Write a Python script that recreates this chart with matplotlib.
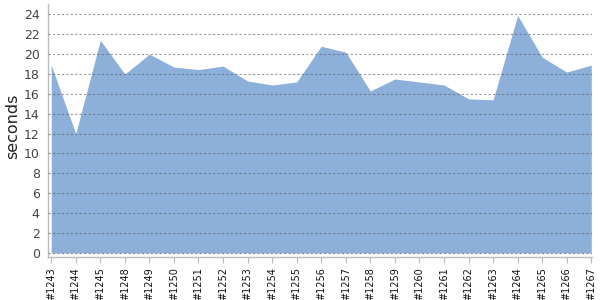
import matplotlib
matplotlib.use("Agg")
import matplotlib.pyplot as plt

builds = ["#1243", "#1244", "#1245", "#1248", "#1249", "#1250", "#1251", "#1252",
          "#1253", "#1254", "#1255", "#1256", "#1257", "#1258", "#1259", "#1260",
          "#1261", "#1262", "#1263", "#1264", "#1265", "#1266", "#1267"]
seconds = [18.9, 12.0, 21.4, 18.0, 20.0, 18.7, 18.45, 18.8,
           17.3, 16.9, 17.2, 20.8, 20.2, 16.3, 17.5, 17.2,
           16.9, 15.5, 15.4, 23.9, 19.7, 18.2, 18.9]
yticks = list(range(0, 25, 2))

fig = plt.figure(figsize=(6, 3), dpi=100)
ax = fig.add_axes([0.08, 0.1423, 0.9067, 0.8444])
x = list(range(len(builds)))
ax.fill_between(x, 0, seconds, color="#8DB0DA", linewidth=0, zorder=1)
ax.set_xlim(-0.13, len(builds) - 1 + 0.03)
ax.set_ylim(-0.45, 25.05)
ax.set_yticks(yticks)
ax.set_xticks(x)
ax.set_xticklabels(builds, rotation=90, fontsize=7, color="#111111")
ax.tick_params(axis="x", length=4, color="#bbbbbb", pad=3)
ax.tick_params(axis="y", length=0, pad=6, labelsize=9, labelcolor="#444444")
ax.yaxis.grid(True, color="#555555", alpha=0.6, linestyle=(0, (2, 2)), linewidth=0.8, zorder=2)
ax.set_axisbelow(False)
for s in ["top", "right"]:
    ax.spines[s].set_visible(False)
for s in ["left", "bottom"]:
    ax.spines[s].set_color("#bbbbbb")
    ax.spines[s].set_linewidth(1)
ax.set_ylabel("seconds", fontsize=11.5, color="#222222", va="center", ha="center")
ax.yaxis.set_label_coords(-0.0645, 0.518)
fig.savefig("out.png", dpi=100)
